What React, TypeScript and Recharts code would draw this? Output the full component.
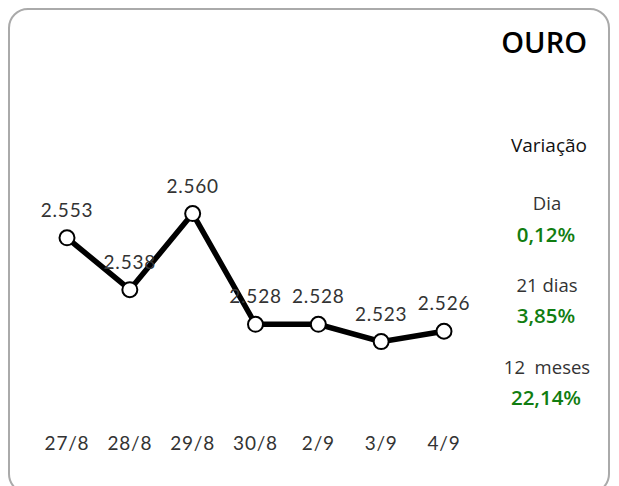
import { LineChart, Line, XAxis, YAxis, LabelList } from 'recharts';

const dates = ['27/8', '28/8', '29/8', '30/8', '2/9', '3/9', '4/9'];
const prices = [2553, 2538, 2560, 2528, 2528, 2523, 2526];

const title = 'OURO';
const variationTitle = 'Variação';
const periods = ['Dia', '21 dias', '12  meses'];
const changes = ['0,12%', '3,85%', '22,14%'];

const data = dates.map((d, i) => ({ date: d, price: prices[i] }));

const fmt = (v: number) => `${Math.floor(v / 1000)}.${String(v % 1000).padStart(3, '0')}`;

const sideFont = '"Open Sans", "Noto Sans", sans-serif';
const chartFont = 'Lato, "Noto Sans", sans-serif';

function SideText({ text, cx, cy, size, color, weight }: any) {
  const lh = Math.round(size * 1.3);
  return (
    <div
      style={{
        position: 'absolute',
        left: cx - 80,
        width: 160,
        top: cy - lh / 2,
        lineHeight: `${lh}px`,
        fontSize: size,
        color,
        fontWeight: weight,
        textAlign: 'center',
        whiteSpace: 'pre',
        fontFamily: sideFont,
      }}
    >
      {text}
    </div>
  );
}

export default function App() {
  // card inner box starts at page (10,10)
  return (
    <div style={{ position: 'fixed', left: 0, top: 0, width: 619, height: 486, overflow: 'hidden', background: '#fff' }}>
      <div
        style={{
          position: 'absolute',
          left: 8,
          top: 8,
          width: 602,
          height: 486,
          boxSizing: 'border-box',
          border: '2px solid #aaaaaa',
          borderRadius: 20,
        }}
      >
        <div style={{ position: 'absolute', left: 0, top: 0 }}>
          <LineChart width={480} height={450} data={data} margin={{ top: 169, right: 46, bottom: 8, left: 57 }}>
            <XAxis
              dataKey="date"
              axisLine={false}
              tickLine={false}
              interval={0}
              height={100}
              tickMargin={79}
              tick={{ fill: '#333', fontSize: 19, fontFamily: chartFont, letterSpacing: 0.8 }}
            />
            <YAxis hide domain={[2520, 2570]} allowDataOverflow />
            <Line
              type="linear"
              dataKey="price"
              stroke="#000"
              strokeWidth={5.5}
              dot={{ r: 7.5, fill: '#fff', stroke: '#000', strokeWidth: 2 }}
              activeDot={false}
              isAnimationActive={false}
            >
              <LabelList
                dataKey="price"
                position="top"
                offset={21}
                formatter={(v: any) => fmt(Number(v))}
                style={{ fill: '#333', fontSize: 19, fontFamily: chartFont, letterSpacing: 0.8 }}
              />
            </Line>
          </LineChart>
        </div>

        <div
          style={{
            position: 'absolute',
            right: 21,
            top: 14,
            lineHeight: '36px',
            fontSize: 29,
            fontWeight: 600,
            color: '#000',
            fontFamily: sideFont,
          }}
        >
          {title}
        </div>
        <div
          style={{
            position: 'absolute',
            right: 21,
            top: 135 - 12,
            lineHeight: '24px',
            fontSize: 19,
            color: '#111',
            fontFamily: sideFont,
          }}
        >
          {variationTitle}
        </div>
        {periods.map((p, i) => (
          <SideText key={p} text={p} cx={537} cy={193 + i * 82} size={18.5} color="#333" weight={400} />
        ))}
        {changes.map((c, i) => (
          <SideText key={c} text={c} cx={536} cy={224 + i * 81.5} size={20.5} color="#117d11" weight={600} />
        ))}
      </div>
    </div>
  );
}
